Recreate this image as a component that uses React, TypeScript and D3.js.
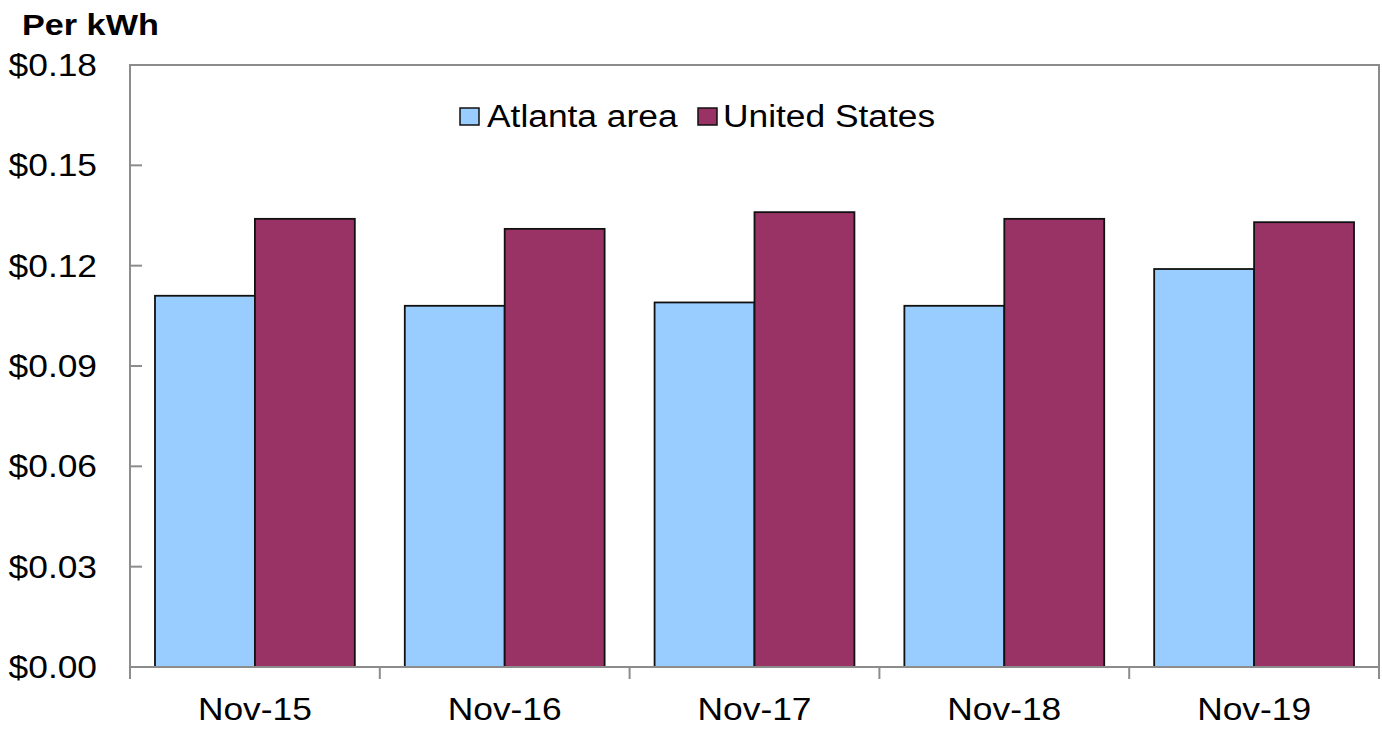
import React from "react";
import * as d3 from "d3";

const categories = ["Nov-15", "Nov-16", "Nov-17", "Nov-18", "Nov-19"];
const seriesNames = ["Atlanta area", "United States"];
const atlantaValues = [0.111, 0.108, 0.109, 0.108, 0.119];
const usValues = [0.134, 0.131, 0.136, 0.134, 0.133];
const yTicks = [0, 0.03, 0.06, 0.09, 0.12, 0.15, 0.18];
const colors = ["#99CCFF", "#993366"];

const W = 1382;
const H = 729;
const M = { left: 130, right: 1379, top: 65, bottom: 667 };
const SX = 1.14;
const FONT = "'Liberation Sans', Arial, sans-serif";

function T({ x, y, anchor = "start", size = 31, weight = "normal", children }: any) {
  return (
    <text
      transform={`translate(${x},${y}) scale(${SX},1)`}
      textAnchor={anchor}
      fontFamily={FONT}
      fontSize={size}
      fontWeight={weight}
      fill="#000"
    >
      {children}
    </text>
  );
}

export default function App() {
  const x0 = d3.scaleBand<string>().domain(categories).range([M.left, M.right]).paddingInner(0).paddingOuter(0);
  const x1 = d3.scaleBand<string>().domain(seriesNames).range([0, x0.bandwidth() * 0.8]);
  const y = d3.scaleLinear().domain([0, 0.18]).range([M.bottom, M.top]);
  const data = [atlantaValues, usValues];
  const off = x0.bandwidth() * 0.1;
  const boundaries = categories.map((c) => x0(c)!).concat([M.right]);

  return (
    <svg width={W} height={H} style={{ position: "absolute", left: 0, top: 0, background: "#fff" }}>
      <rect x={0} y={0} width={W} height={H} fill="#fff" />
      <T x={22} y={35} size={30} weight="bold">Per kWh</T>
      {categories.map((c, i) =>
        seriesNames.map((s, j) => {
          const v = data[j][i];
          const bx = x0(c)! + off + x1(s)!;
          return (
            <rect
              key={c + s}
              x={bx}
              y={y(v)}
              width={x1.bandwidth()}
              height={y(0) - y(v)}
              fill={colors[j]}
              stroke="#111"
              strokeWidth={1.8}
            />
          );
        })
      )}
      <rect x={M.left} y={M.top} width={M.right - M.left} height={M.bottom - M.top} fill="none" stroke="#8c8c8c" strokeWidth={2} />
      {yTicks.map((t) => (
        <g key={t}>
          <line x1={M.left} x2={M.left + 12} y1={y(t)} y2={y(t)} stroke="#8c8c8c" strokeWidth={2} />
          <T x={97} y={y(t) + 11} anchor="end">{d3.format("$.2f")(t)}</T>
        </g>
      ))}
      {boundaries.map((b, i) => (
        <line key={i} x1={b} x2={b} y1={M.bottom} y2={M.bottom + 12} stroke="#8c8c8c" strokeWidth={2} />
      ))}
      {categories.map((c) => (
        <T key={c} x={x0(c)! + x0.bandwidth() / 2} y={720} anchor="middle">{c}</T>
      ))}
      <rect x={460} y={108} width={19} height={17} fill={colors[0]} stroke="#111" strokeWidth={1.5} />
      <T x={487} y={127}>{seriesNames[0]}</T>
      <rect x={698} y={108} width={19} height={17} fill={colors[1]} stroke="#111" strokeWidth={1.5} />
      <T x={723} y={127}>{seriesNames[1]}</T>
    </svg>
  );
}
